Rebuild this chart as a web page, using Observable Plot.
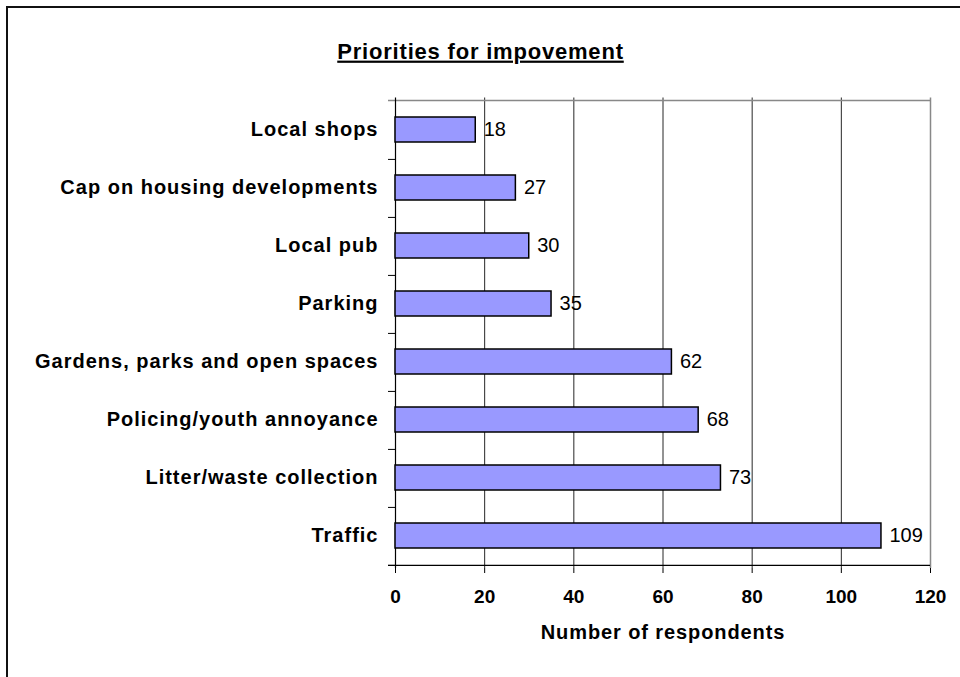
<!DOCTYPE html>
<html><head><meta charset="utf-8">
<script src="https://cdn.jsdelivr.net/npm/d3@7"></script>
<script src="https://cdn.jsdelivr.net/npm/@observablehq/plot@0.6"></script>
<style>
body{margin:0;background:#fff;font-family:"Liberation Sans",Arial,sans-serif;}
#wrap{position:relative;width:960px;height:677px;overflow:hidden;background:#fff;}
#border{position:absolute;left:6px;top:6px;width:1100px;height:1100px;border:2px solid #111;box-sizing:border-box;}
#chart{position:absolute;left:0;top:0;}
</style></head><body>
<div id="wrap"><div id="border"></div><div id="chart"></div></div>
<script>
const categories = [
  "Local shops",
  "Cap on housing developments",
  "Local pub",
  "Parking",
  "Gardens, parks and open spaces",
  "Policing/youth annoyance",
  "Litter/waste collection",
  "Traffic"
];
const values = [18, 27, 30, 35, 62, 68, 73, 109];
const xTicks = [0, 20, 40, 60, 80, 100, 120];
const title = "Priorities for impovement";
const xLabel = "Number of respondents";

const data = categories.map((c, i) => ({category: c, value: values[i]}));

const W = 960, H = 677, mL = 395, mR = 30, mT = 97.5, mB = 109;
const step = (H - mT - mB) / categories.length;

const plot = Plot.plot({
  width: W, height: H,
  marginLeft: mL, marginRight: mR, marginTop: mT, marginBottom: mB,
  style: {fontFamily: "'Liberation Sans', Arial, sans-serif", background: "transparent", color: "#000", overflow: "visible"},
  x: {domain: [0, 120], ticks: xTicks, label: null, axis: null},
  y: {domain: categories, paddingInner: 0.575, paddingOuter: 0.2875, label: null, axis: null},
  marks: [
    Plot.ruleX(xTicks.slice(1, -1), {stroke: "#000", strokeOpacity: 0.85, strokeWidth: 1}),
    Plot.ruleX([120], {stroke: "#888", strokeWidth: 1.5}),
    Plot.ruleY([categories[0]], {dy: -step / 2, stroke: "#888", strokeWidth: 1.5, insetLeft: -7}),
    Plot.ruleY(categories, {dy: step / 2, x1: 0, x2: 0, insetLeft: -7, stroke: "#000"}),
    Plot.ruleY([categories[categories.length - 1]], {dy: step / 2, stroke: "#000", strokeWidth: 1.2, insetLeft: -7}),
    Plot.ruleX([0], {stroke: "#000", strokeWidth: 1.2}),
    Plot.barX(data, {x: "value", y: "category", fill: "#9999FF", stroke: "#000", strokeWidth: 1.5}),
    Plot.text(data, {x: "value", y: "category", text: d => String(d.value), textAnchor: "start", dx: 8, fontSize: 20, fill: "#000"}),
    Plot.axisX({ticks: xTicks, tickSize: 5, tickPadding: 16, fontSize: 19, fontWeight: "bold", label: null, stroke: "#000"}),
    Plot.axisY({tickSize: 0, tickPadding: 17, fontSize: 20, fontWeight: "bold", label: null}),
    Plot.text([title], {frameAnchor: "top-left", dx: 480 - mL, dy: -55, textAnchor: "middle", fontSize: 22, fontWeight: "bold", fill: "#000"}),
    Plot.text([xLabel], {frameAnchor: "bottom", dy: 70, fontSize: 20, fontWeight: "bold", fill: "#000"})
  ]
});

document.getElementById("chart").appendChild(plot);
d3.select(plot).selectAll("text").each(function() {
  const t = this.textContent;
  const s = d3.select(this);
  if (t === title) s.style("text-decoration", "underline").style("letter-spacing", "0.8px");
  else if (t === xLabel) s.style("letter-spacing", "0.9px");
  else if (categories.includes(t)) s.style("letter-spacing", "1px");
});
</script>
</body></html>
